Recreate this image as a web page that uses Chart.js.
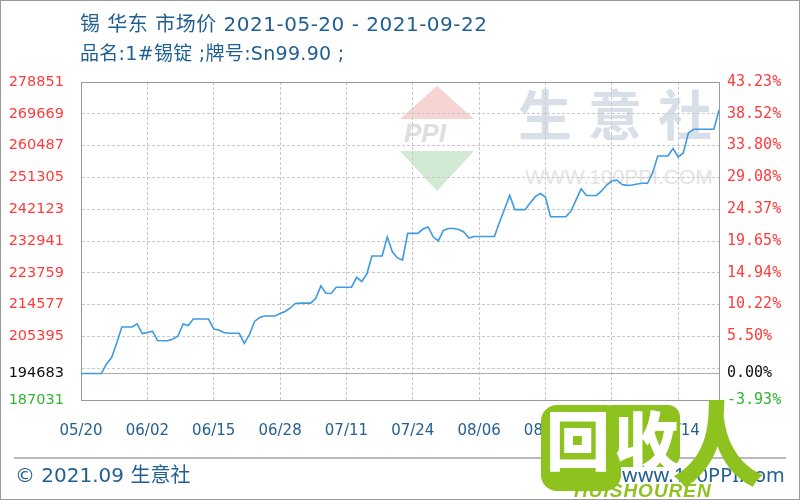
<!DOCTYPE html>
<html>
<head>
<meta charset="utf-8">
<script src="https://cdn.jsdelivr.net/npm/chart.js@4.4.1/dist/chart.umd.min.js"></script>
<style>
  html, body { margin: 0; padding: 0; background: #fff; }
  #wrap { position: relative; width: 800px; height: 500px; overflow: hidden; background: #fff;
          font-family: "DejaVu Sans", "Noto Sans CJK SC", sans-serif; }
  #wrap canvas { position: absolute; left: 0; top: 0; }
  .abs { position: absolute; white-space: nowrap; }
  .txt { color: #1f5f91; line-height: 1; }
  #frame { position: absolute; left: 0; top: 0; width: 800px; height: 500px; box-sizing: border-box;
           border: 1px solid #9a9a9a; pointer-events: none; }
</style>
</head>
<body>
<div id="wrap">
  <!-- watermarks behind the chart -->
  <div class="abs" style="left:400px;top:86px;width:0;height:0;border-left:37px solid transparent;border-right:37px solid transparent;border-bottom:33px solid #f6d4d1;"></div>
  <div class="abs" style="left:404px;top:118px;font:italic bold 26px 'Liberation Sans';color:#dedede;">PPI</div>
  <div class="abs" style="left:400px;top:151px;width:0;height:0;border-left:37px solid transparent;border-right:37px solid transparent;border-top:40px solid #d2ead3;"></div>
  <div class="abs" style="left:518px;top:86px;font:bold 54px 'Noto Sans CJK SC';letter-spacing:16px;color:#d9dfe9;line-height:1;">生意社</div>
  <div class="abs" style="left:525px;top:166px;font:21px 'Liberation Sans';color:#e4e4e4;line-height:1;">WWW.100PPI.COM</div>

  <canvas id="myChart" width="800" height="500"></canvas>

  <div class="abs txt" style="left:80px;top:14px;font-size:20px;letter-spacing:0.5px;">锡 华东 市场价 2021-05-20 - 2021-09-22</div>
  <div class="abs txt" style="left:80px;top:44px;font-size:19px;letter-spacing:0.3px;">品名:1#锡锭 ;牌号:Sn99.90 ;</div>

  <div class="abs" style="left:14px;top:457px;width:772px;height:0;border-top:2px solid #b9b9b9;"></div>
  <div class="abs txt" style="left:15px;top:465px;font-size:20px;">© 2021.09 生意社</div>
  <div class="abs txt" style="left:622px;top:465px;font-size:20px;font-family:'Noto Sans';">www.100PPI.com</div>

  <!-- overlay logo -->
  <div class="abs" style="left:541px;top:405px;width:80px;height:86px;background:#8dc21f;border-radius:16px;"></div>
  <div class="abs" style="left:600px;top:405px;width:80px;height:62px;background:#8dc21f;border-radius:12px;"></div>
  <div class="abs" style="left:546px;top:402px;font:900 64px 'Noto Sans CJK SC';color:#fff;line-height:1.1;letter-spacing:4px;">回收</div>
  <div class="abs" style="left:672px;top:388px;font:900 92px 'Noto Sans CJK SC';color:#8dc21f;line-height:1.1;">人</div>
  <div class="abs" style="left:574px;top:481px;font:italic bold 19px 'Liberation Sans';color:#8dc21f;letter-spacing:1px;line-height:1;">HUISHOUREN</div>

  <div id="frame"></div>
</div>

<script>
const startDate = "2021-05-20";
const dateLabels = ["05/20", "06/02", "06/15", "06/28", "07/11", "07/24", "08/06", "08/19", "09/01", "09/14"];
const labelDays = [0, 13, 26, 39, 52, 65, 78, 91, 104, 117];

// 锡 华东 市场价, one value per calendar day from 2021-05-20 to 2021-09-22
const prices = [
    194683, 194683, 194683, 194683, 194683, 197450, 199300, 203500, 208100, 208100,
    208100, 209000, 206200, 206500, 206900, 204200, 204150, 204150, 204650, 205500,
    209000, 208550, 210400, 210400, 210400, 210400, 207550, 207250, 206500, 206300,
    206300, 206300, 203400, 205900, 209700, 210850, 211300, 211300, 211300, 212000,
    212600, 213600, 214900, 215000, 215000, 215000, 216400, 219950, 217850, 217800,
    219600, 219600, 219600, 219600, 222450, 221250, 223400, 228600, 228600, 228600,
    234100, 229800, 228050, 227450, 235150, 235150, 235150, 236400, 237000, 234150,
    232950, 236000, 236550, 236550, 236250, 235550, 233800, 234250, 234250, 234250,
    234250, 234250, 238450, 242200, 246100, 242000, 242000, 242000, 243900, 245750,
    246650, 245650, 239950, 239950, 239950, 239950, 241600, 244800, 248000, 246100,
    246100, 246100, 247400, 249100, 250250, 250550, 249250, 249000, 249100, 249400,
    249600, 249600, 252600, 257500, 257500, 257500, 259650, 257200, 258350, 264100,
    265200, 265200, 265200, 265200, 265200, 270750,
];

const basePrice = 194683;
const priceTicks = [187031, 194683, 205395, 214577, 223759, 232941, 242123, 251305, 260487, 269669, 278851];
const pctLabels = ["-3.93%", "0.00%", "5.50%", "10.22%", "14.94%", "19.65%", "24.37%", "29.08%", "33.80%", "38.52%", "43.23%"];
const plainGrid = [196213];

const yMin = priceTicks[0];
const yMax = priceTicks[priceTicks.length - 1];

function tickColor(v) {
    if (v > basePrice) return "#ff3b3b";
    if (v < basePrice) return "#2fb52f";
    return "#111111";
}

const ctx = document.getElementById("myChart");

new Chart(ctx, {
    type: "line",
    data: {
        datasets: [
            {
                label: "锡",
                data: prices.map((v, i) => ({ x: i, y: v })),
                borderColor: "#3f9be0",
                borderWidth: 1.6,
                pointRadius: 0,
                tension: 0,
                fill: false,
            },
        ],
    },
    options: {
        responsive: false,
        animation: false,
        devicePixelRatio: 1,
        layout: {
            padding: { top: 82, left: 7, right: 0, bottom: 60 },
        },
        plugins: {
            legend: { display: false },
            tooltip: { enabled: false },
        },
        scales: {
            x: {
                type: "linear",
                position: "bottom",
                min: 0,
                max: prices.length - 1,
                afterBuildTicks: (s) => {
                    s.ticks = labelDays.map((v) => ({ value: v }));
                },
                afterFit: (s) => {
                    s.height = 40;
                },
                ticks: {
                    autoSkip: false,
                    maxRotation: 0,
                    padding: 22,
                    color: "#245f91",
                    font: { family: "DejaVu Sans", size: 15 },
                    callback: (v) => dateLabels[labelDays.indexOf(v)],
                },
                grid: {
                    drawTicks: false,
                    color: (c) => (c.tick && c.tick.value === 0 ? "#999999" : "#c8c8c8"),
                },
                border: {
                    color: "#999999",
                    dash: (c) => (!c.tick || c.tick.value === 0 ? [] : [3, 2]),
                },
            },
            y: {
                type: "linear",
                position: "left",
                min: yMin,
                max: yMax,
                afterBuildTicks: (s) => {
                    s.ticks = [...priceTicks, ...plainGrid].sort((a, b) => a - b).map((v) => ({ value: v }));
                },
                afterFit: (s) => {
                    s.width = 74;
                },
                ticks: {
                    autoSkip: false,
                    padding: 17,
                    font: { family: "DejaVu Sans", size: 14.5 },
                    color: (c) => tickColor(c.tick.value),
                    callback: (v) => (plainGrid.includes(v) ? "" : String(v)),
                },
                grid: {
                    drawTicks: false,
                    color: (c) => {
                        const v = c.tick ? c.tick.value : null;
                        if (v === yMax || v === yMin) return "#999999";
                        if (v === basePrice) return "#aaaaaa";
                        return "#c8c8c8";
                    },
                },
                border: {
                    color: "#999999",
                    dash: (c) => {
                        const v = c.tick ? c.tick.value : null;
                        if (v === null || v === yMax || v === yMin || v === basePrice) return [];
                        return [3, 2];
                    },
                },
            },
            y2: {
                type: "linear",
                position: "right",
                min: yMin,
                max: yMax,
                afterBuildTicks: (s) => {
                    s.ticks = priceTicks.map((v) => ({ value: v }));
                },
                afterFit: (s) => {
                    s.width = 81;
                },
                ticks: {
                    autoSkip: false,
                    padding: 8,
                    font: { family: "DejaVu Sans Mono", size: 15 },
                    color: (c) => tickColor(c.tick.value),
                    callback: (v) => pctLabels[priceTicks.indexOf(v)],
                },
                grid: { display: false, drawTicks: false },
                border: { color: "#999999" },
            },
        },
    },
});
</script>
</body>
</html>
